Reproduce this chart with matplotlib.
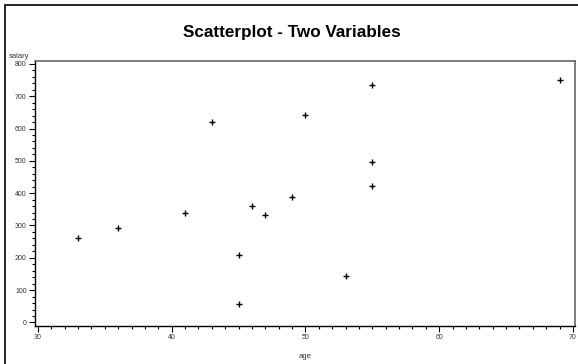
import matplotlib
matplotlib.use("Agg")
import matplotlib.pyplot as plt
from matplotlib.patches import Rectangle
from matplotlib.ticker import MultipleLocator

plt.rcParams['font.family'] = ['Liberation Sans', 'DejaVu Sans']

# data
age = [33, 36, 41, 43, 45, 45, 46, 47, 49, 50, 53, 55, 55, 55, 69]
salary = [262, 291, 338, 620, 208, 58, 361, 331, 389, 642, 145, 735, 498, 423, 751]
x_ticks = [30, 40, 50, 60, 70]
y_ticks = [0, 100, 200, 300, 400, 500, 600, 700, 800]

fig = plt.figure(figsize=(5.78, 3.64), dpi=100)

# outer frame (partly cut off on the right and bottom)
fig.patches.append(Rectangle((5 / 578, -0.1), 1.2, (364 - 5) / 364 + 0.1,
                             transform=fig.transFigure, fill=False,
                             edgecolor='black', linewidth=1.2))

ax = fig.add_axes([35 / 578, (364 - 326) / 364, 540 / 578, 265 / 364])
ax.scatter(age, salary, marker='+', color='black', s=16, linewidths=1.0)

ax.set_xlim(29.78, 70.15)
ax.set_ylim(-11, 809)
ax.set_xticks(x_ticks)
ax.set_yticks(y_ticks)
ax.xaxis.set_minor_locator(MultipleLocator(1))
ax.yaxis.set_minor_locator(MultipleLocator(20))
ax.tick_params(which='major', direction='out', length=4, width=0.8,
               labelsize=5, labelcolor='#333333', pad=2)
ax.tick_params(which='minor', direction='out', length=2, width=0.8)

for s in ['left', 'bottom']:
    ax.spines[s].set_color('black')
    ax.spines[s].set_linewidth(1.0)
for s in ['top', 'right']:
    ax.spines[s].set_color('#666666')
    ax.spines[s].set_linewidth(1.2)

fig.text(292 / 578, 1 - 32 / 364, 'Scatterplot - Two Variables', ha='center',
         va='center', fontsize=12.3, fontweight='bold')
fig.text(19 / 578, 1 - 56 / 364, 'salary', ha='center', va='center',
         fontsize=5.5, color='#333333')
fig.text(305 / 578, 1 - 356 / 364, 'age', ha='center', va='center',
         fontsize=5.5, color='#333333')

fig.savefig('out.png', dpi=100)
